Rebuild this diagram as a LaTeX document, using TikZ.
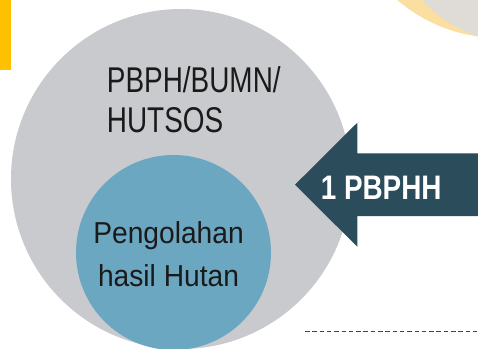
\documentclass[tikz,border=0pt]{standalone}
\usepackage{fontspec}
\setmainfont{Liberation Sans}
\newfontfamily\outerfont[FakeStretch=0.78]{Liberation Sans}
\newfontfamily\innerfont[FakeStretch=0.93]{Liberation Sans}
\newfontfamily\arrowfont[FakeStretch=0.82]{Liberation Sans Bold}

\definecolor{barYellow}{HTML}{FFC000}
\definecolor{cornerYellow}{HTML}{FBDFA0}
\definecolor{cornerGray}{HTML}{DFDCD7}
\definecolor{outerGray}{HTML}{C9CACE}
\definecolor{innerBlue}{HTML}{6CA7C2}
\definecolor{arrowSlate}{HTML}{2B4C5B}
\definecolor{textBlack}{HTML}{1A1A1A}

\begin{document}
\begin{tikzpicture}[x=1pt,y=-1pt,
    disc/.style={circle, inner sep=0pt, minimum size=#1},
    label text/.style={inner sep=0pt, text=textBlack}]
  \useasboundingbox (0,0) rectangle (478,348);
  \clip (0,0) rectangle (478,348);

  % corner decoration and side bar
  \node[disc=316pt, fill=cornerYellow] (cornerA) at (500,-120) {};
  \node[disc=266pt, fill=cornerGray] (cornerB) at (520,-90) {};
  \fill[barYellow] (0,0) rectangle (11,69.5);

  % nested circles
  \node[disc=340pt, fill=outerGray] (outer) at (181,179) {};
  \node[disc=195pt, fill=innerBlue] (inner) at (173.5,252.5) {};

  \node[label text, anchor=base west, align=left,
        font=\outerfont\fontsize{35.8}{40}\selectfont] (outerText) at (106.7,132.3)
        {PBPH/BUMN/\\HUTSOS};
  \node[label text, anchor=base, align=center,
        font=\innerfont\fontsize{30.3}{43.4}\selectfont] (innerText) at (168.5,286.7)
        {Pengolahan\\hasil Hutan};

  % incoming arrow
  \fill[arrowSlate] (295,184.7) -- (357.3,122.7) -- (357.3,153.3) -- (480,153.3)
    -- (480,216) -- (357.3,216) -- (357.3,246.7) -- cycle;
  \node[inner sep=0pt, anchor=base, text=white,
        font=\arrowfont\fontsize{34}{40}\selectfont] (arrowText) at (381.2,199.3) {1 PBPHH};

  % dashed rule
  \coordinate (ruleStart) at (305,331.7);
  \coordinate (ruleEnd) at (478,331.7);
  \draw[arrowSlate, line width=1pt, dash pattern=on 4.5pt off 2.8pt] (ruleStart) -- (ruleEnd);
\end{tikzpicture}
\end{document}
